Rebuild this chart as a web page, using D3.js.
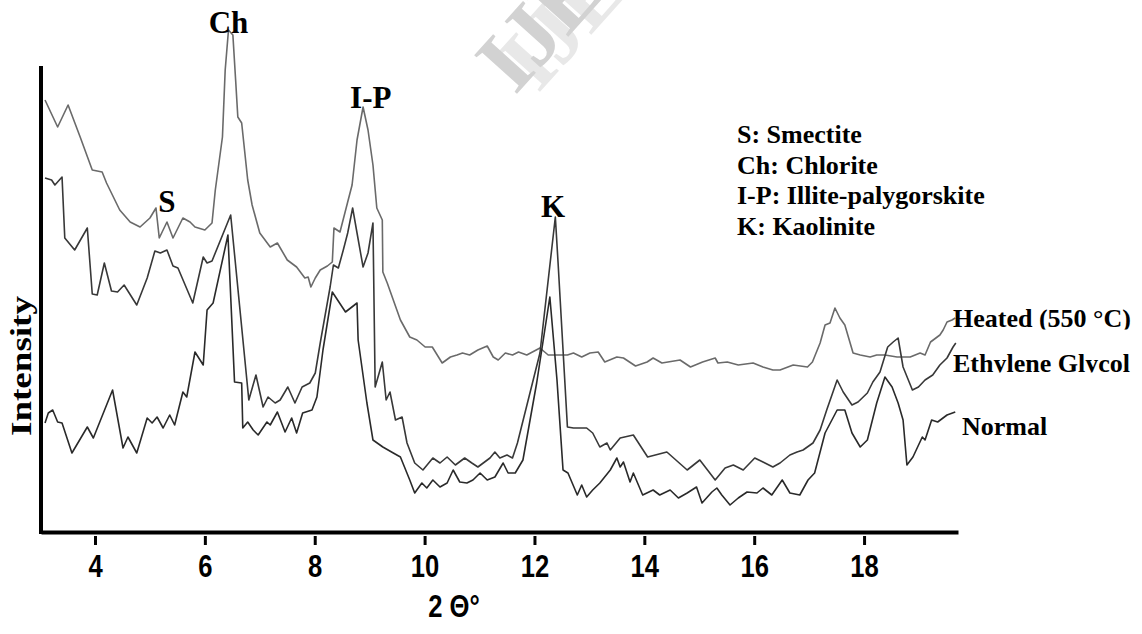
<!DOCTYPE html>
<html>
<head>
<meta charset="utf-8">
<script src="https://cdn.jsdelivr.net/npm/d3@7"></script>
<style>
	html, body { margin: 0; padding: 0; background: #fff; }
</style>
</head>
<body>
<div class="container"></div>
<script>
// XRD traces: 2-theta (deg) and intensity (arbitrary units)
var seriesNames = ["Heated (550 °C)", "Ethylene Glycol", "Normal"];

var heatedTheta = [3.09,3.32,3.51,3.73,3.95,4.13,4.21,4.45,4.64,4.82,5.00,5.11,5.17,5.31,5.42,5.60,5.73,5.82,6.00,6.13,6.19,6.32,6.37,6.43,6.51,6.56,6.60,6.67,6.78,6.86,7.00,7.19,7.32,7.50,7.67,7.82,7.88,7.93,8.01,8.10,8.23,8.32,8.35,8.46,8.60,8.68,8.77,8.88,8.97,9.06,9.13,9.23,9.24,9.32,9.56,9.73,9.86,10.01,10.14,10.32,10.47,10.59,10.69,10.82,10.97,11.14,11.25,11.34,11.47,11.60,11.71,11.86,12.10,12.25,12.41,12.60,12.71,12.86,13.01,13.16,13.28,13.50,13.62,13.84,14.05,14.16,14.32,14.43,14.65,14.84,15.06,15.29,15.34,15.51,15.71,15.98,16.16,16.34,16.47,16.71,16.97,17.06,17.20,17.29,17.38,17.47,17.56,17.65,17.80,17.93,18.11,18.23,18.38,18.60,18.84,19.02,19.11,19.21,19.38,19.44,19.51,19.60,19.66];
var heatedCounts = [86.4,81.0,85.4,79.0,72.4,72.0,69.8,64.4,62.0,61.0,62.8,64.8,58.8,62.0,58.8,62.8,62.0,61.0,60.4,61.8,68.4,79.0,92.4,100.4,99.4,90.4,83.0,81.8,70.4,65.4,59.8,57.0,57.8,54.4,53.0,50.8,51.0,49.0,50.8,52.4,53.2,54.0,60.8,60.0,66.0,69.4,78.4,85.0,80.4,73.4,64.8,62.4,52.0,49.8,42.4,39.0,38.4,37.0,37.0,33.8,35.0,35.4,35.8,35.4,36.4,37.2,35.0,34.4,35.8,35.4,36.0,35.4,36.8,35.4,35.4,35.4,35.8,35.0,35.8,36.0,34.0,35.0,34.8,33.2,34.0,34.8,33.8,34.0,34.4,33.0,34.0,34.8,33.8,34.0,33.4,33.8,33.0,32.4,32.4,33.4,33.0,34.0,37.8,41.4,41.8,44.8,42.8,41.4,35.8,35.4,35.0,35.4,35.4,35.0,35.0,35.8,35.4,38.0,39.4,40.4,42.0,42.4,42.8];

var glycolTheta = [3.09,3.21,3.27,3.40,3.45,3.63,3.86,3.95,4.04,4.17,4.30,4.41,4.53,4.76,4.95,5.09,5.19,5.31,5.42,5.51,5.78,5.97,6.04,6.13,6.47,6.80,6.93,7.06,7.15,7.28,7.37,7.51,7.64,7.77,7.91,8.01,8.10,8.28,8.34,8.43,8.52,8.60,8.69,8.77,8.88,8.97,9.06,9.10,9.23,9.30,9.37,9.47,9.59,9.68,9.82,9.97,10.15,10.28,10.41,10.56,10.73,10.86,10.97,11.19,11.28,11.37,11.50,11.60,11.69,12.10,12.38,12.43,12.60,12.71,12.95,13.06,13.19,13.32,13.38,13.56,13.80,14.06,14.41,14.78,15.01,15.29,15.47,15.62,15.80,16.01,16.16,16.34,16.47,16.65,16.78,16.89,17.07,17.20,17.32,17.51,17.62,17.78,17.89,18.06,18.16,18.29,18.43,18.53,18.62,18.71,18.88,18.99,19.11,19.25,19.38,19.51,19.62,19.67];
var glycolCounts = [70.8,70.4,69.4,71.0,58.8,56.4,60.8,47.6,47.4,53.8,48.2,48.0,49.4,45.4,50.8,56.2,55.8,56.4,53.2,52.8,45.8,55.0,53.8,54.2,63.4,26.4,31.4,25.0,27.0,25.8,26.4,29.0,25.8,29.0,29.8,31.8,37.8,49.0,53.4,52.8,56.4,59.8,64.8,59.8,53.0,55.8,61.8,29.0,34.0,26.4,28.0,22.4,23.0,17.8,13.8,12.4,14.8,13.8,15.0,13.4,14.8,13.8,13.0,14.8,16.0,14.8,15.4,14.8,17.8,35.8,63.0,53.8,21.0,20.8,20.8,19.8,17.0,17.8,16.4,18.8,19.4,15.0,16.0,12.4,14.4,10.4,12.8,13.4,12.4,14.8,14.0,13.0,13.8,15.4,16.0,16.4,17.8,20.4,24.4,30.4,28.0,25.4,26.0,27.8,30.0,32.0,37.0,38.0,38.8,33.0,28.4,29.0,30.4,31.4,33.4,34.8,37.0,37.8];

var normalTheta = [3.09,3.15,3.23,3.32,3.40,3.58,3.86,3.97,4.32,4.51,4.60,4.76,4.95,5.04,5.13,5.24,5.36,5.45,5.60,5.67,5.82,5.97,6.04,6.15,6.42,6.54,6.67,6.69,6.78,6.88,6.97,7.13,7.19,7.32,7.46,7.58,7.67,7.78,7.95,8.04,8.15,8.32,8.56,8.77,8.79,8.95,9.06,9.24,9.43,9.56,9.73,9.82,9.95,10.04,10.15,10.28,10.41,10.52,10.64,10.77,10.88,11.01,11.14,11.28,11.43,11.52,11.65,11.79,12.04,12.28,12.41,12.52,12.61,12.78,12.86,12.95,13.06,13.19,13.38,13.50,13.56,13.62,13.74,13.80,13.97,14.16,14.28,14.47,14.62,14.78,14.95,15.05,15.23,15.32,15.41,15.56,15.71,15.87,16.05,16.16,16.32,16.51,16.65,16.83,16.98,17.10,17.29,17.51,17.65,17.78,17.93,18.06,18.23,18.38,18.51,18.62,18.71,18.78,18.89,19.06,19.11,19.23,19.34,19.51,19.66];
var normalCounts = [21.8,23.8,24.4,22.0,21.8,15.8,21.0,18.8,28.4,16.8,19.0,15.8,22.8,21.8,23.0,20.8,23.4,21.4,28.0,27.0,36.0,33.4,44.4,45.8,59.4,30.0,29.8,20.8,22.0,20.4,19.4,22.0,21.4,24.0,20.0,22.8,19.8,23.8,24.4,27.0,36.4,48.0,44.0,45.8,38.4,25.8,18.4,17.0,15.8,15.0,10.4,7.8,9.8,8.8,10.4,9.0,9.8,12.4,10.0,9.8,10.4,11.8,10.4,11.0,13.8,11.8,11.8,14.4,29.8,47.0,30.4,12.4,11.8,7.4,9.4,7.0,8.4,9.8,12.4,14.8,13.0,14.0,10.0,11.8,7.4,8.4,7.4,8.4,6.8,7.8,9.0,5.8,8.0,8.8,7.4,5.4,6.8,8.0,7.8,8.8,7.4,10.4,7.8,7.4,10.4,11.8,19.8,24.4,24.4,19.8,17.0,18.4,25.8,31.0,29.0,25.8,22.4,13.4,15.0,19.0,18.4,22.4,22.0,23.4,24.0];

var tickValues = [4, 6, 8, 10, 12, 14, 16, 18];

var peakLabels = ["S", "Ch", "I-P", "K"];
var peakTheta = [5.31, 6.43, 9.02, 12.34];
var peakCounts = [64.0, 99.8, 84.8, 63.0];

var legendLines = ["S: Smectite", "Ch: Chlorite", "I-P: Illite-palygorskite", "K: Kaolinite"];

var charter = function () {
	var width = 1142, height = 634;
	var serif = "'Liberation Serif', 'Times New Roman', serif";
	var sans = "'Liberation Sans', Arial, sans-serif";

	var x = d3.scaleLinear().domain([3.017, 19.71]).range([41, 958]);
	var y = d3.scaleLinear().domain([0, 100]).range([532, 32]);

	var zip = function (xs, ys) {
		return xs.map(function (v, i) { return [v, ys[i]]; });
	};

	var init = function () {
		var paper = d3.select('.container').append("svg")
			.attr("width", width)
			.attr("height", height)
			.style("display", "block");

		// faint journal watermark (light shadow + darker face)
		paper.append("text")
			.attr("transform", "translate(538,94) rotate(-48)")
			.attr("font-family", serif)
			.attr("font-weight", "bold")
			.attr("font-size", 88)
			.attr("fill", "#e8e8e8")
			.text("IJERT");
		paper.append("text")
			.attr("transform", "translate(515,96) rotate(-48)")
			.attr("font-family", serif)
			.attr("font-weight", "bold")
			.attr("font-size", 88)
			.attr("fill", "#d2d2d2")
			.text("IJERT");

		var traces = [
			{ name: seriesNames[0], pts: zip(heatedTheta, heatedCounts), color: "#6a6a6a" },
			{ name: seriesNames[1], pts: zip(glycolTheta, glycolCounts), color: "#383838" },
			{ name: seriesNames[2], pts: zip(normalTheta, normalCounts), color: "#2a2a2a" }
		];

		var line = d3.line()
			.x(function (d) { return x(d[0]); })
			.y(function (d) { return y(d[1]); });

		paper.selectAll("path.trace")
			.data(traces)
			.enter().append("path")
			.attr("class", "trace")
			.attr("d", function (d) { return line(d.pts); })
			.attr("fill", "none")
			.attr("stroke", function (d) { return d.color; })
			.attr("stroke-width", 1.6)
			.attr("stroke-linejoin", "round");

		// x axis
		var xAxis = paper.append("g")
			.attr("transform", "translate(0," + y(0) + ")")
			.call(d3.axisBottom(x).tickValues(tickValues).tickSizeOuter(0).tickFormat(d3.format("d")));

		xAxis.select(".domain").attr("stroke", "#000").attr("stroke-width", 4);
		xAxis.selectAll(".tick line").attr("y1", 4).attr("y2", 13).attr("stroke-width", 3);
		xAxis.selectAll(".tick text")
			.attr("y", 0).attr("dy", 0)
			.attr("transform", "translate(0,45) scale(0.8,1)")
			.attr("font-family", sans)
			.attr("font-weight", "bold")
			.attr("font-size", 32)
			.attr("fill", "#000");

		// y axis (no ticks)
		paper.append("line")
			.attr("x1", x(3.017)).attr("x2", x(3.017))
			.attr("y1", y(93.2)).attr("y2", y(0) + 2)
			.attr("stroke", "#000")
			.attr("stroke-width", 4);

		paper.append("text")
			.attr("transform", "translate(454,617) scale(0.8,1)")
			.attr("text-anchor", "middle")
			.attr("font-family", sans)
			.attr("font-weight", "bold")
			.attr("font-size", 32)
			.text("2 \u0398\u00b0");

		paper.append("text")
			.attr("transform", "translate(31,366) rotate(-90)")
			.attr("text-anchor", "middle")
			.attr("font-family", serif)
			.attr("font-weight", "bold")
			.attr("font-size", 30)
			.attr("textLength", 140)
			.attr("lengthAdjust", "spacingAndGlyphs")
			.text("Intensity");

		// peak letters
		paper.selectAll("text.peak")
			.data(peakLabels)
			.enter().append("text")
			.attr("class", "peak")
			.attr("x", function (d, i) { return x(peakTheta[i]); })
			.attr("y", function (d, i) { return y(peakCounts[i]); })
			.attr("text-anchor", "middle")
			.attr("font-family", serif)
			.attr("font-weight", "bold")
			.attr("font-size", 31)
			.text(function (d) { return d; });

		// mineral key
		paper.selectAll("text.key")
			.data(legendLines)
			.enter().append("text")
			.attr("class", "key")
			.attr("x", 737)
			.attr("y", function (d, i) { return 143 + i * 30.7; })
			.attr("font-family", serif)
			.attr("font-weight", "bold")
			.attr("font-size", 26)
			.text(function (d) { return d; });

		// series names at the right end, bottoms cropped as in the scan
		var defs = paper.append("defs");
		var nameSpots = [
			{ x: 953, y: 327, clip: 329.5 },
			{ x: 953, y: 372, clip: 372.5 },
			{ x: 962, y: 435, clip: 450 }
		];
		nameSpots.forEach(function (s, i) {
			defs.append("clipPath").attr("id", "nameclip" + i)
				.append("rect")
				.attr("x", s.x - 5).attr("y", s.y - 40)
				.attr("width", width - s.x + 5).attr("height", s.clip - (s.y - 40));
		});

		paper.selectAll("text.sname")
			.data(traces)
			.enter().append("text")
			.attr("class", "sname")
			.attr("clip-path", function (d, i) { return "url(#nameclip" + i + ")"; })
			.attr("x", function (d, i) { return nameSpots[i].x; })
			.attr("y", function (d, i) { return nameSpots[i].y; })
			.attr("font-family", serif)
			.attr("font-weight", "bold")
			.attr("font-size", 26)
			.text(function (d) { return d.name; });
	};

	return Object.freeze({ init: init });
};

var c = charter();
c.init();
</script>
</body>
</html>
